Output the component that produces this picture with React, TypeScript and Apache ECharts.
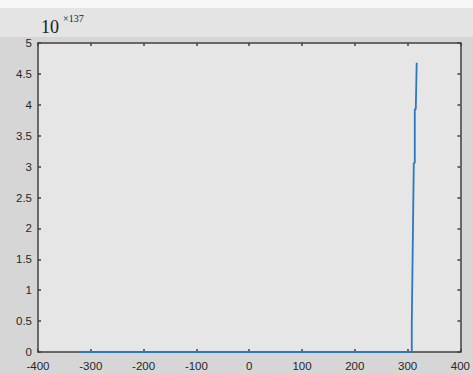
import React, { useEffect, useRef } from "react";
import * as echarts from "echarts";

const xTicks = [-400, -300, -200, -100, 0, 100, 200, 300, 400];
const yTicks = [0, 0.5, 1, 1.5, 2, 2.5, 3, 3.5, 4, 4.5, 5];
const xValues = [-320, 307.9, 307.9, 309.2, 309.2, 310.5, 310.5, 311.7, 311.7, 313.6, 313.6, 315.5, 317.2];
const yValues = [0, 0, 0.47, 0.47, 1.34, 1.34, 2.22, 2.22, 3.06, 3.06, 3.93, 3.93, 4.68];
const exponentBase = "10";
const exponentPower = "×137";

export default function App() {
  const ref = useRef<HTMLDivElement>(null);
  useEffect(() => {
    if (!ref.current) return;
    const chart = echarts.init(ref.current, null, { renderer: "svg" });
    const data = xValues.map((x, i) => [x, yValues[i]]);
    const labelStyle = { color: "#262626", fontSize: 11.5, lineHeight: 11, fontFamily: "Liberation Sans, Arial, sans-serif" };
    const axisLine = { show: true, onZero: false, lineStyle: { color: "#404040", width: 1.5 } };
    const tick = { show: true, inside: true, length: 3, lineStyle: { color: "#404040", width: 1.5 } };
    chart.setOption({
      animation: false,
      backgroundColor: "#d6d6d6",
      graphic: [
        { type: "rect", z: -10, shape: { x: 0, y: 0, width: 473, height: 8 }, style: { fill: "#f7f7f7" } },
        { type: "rect", z: -10, shape: { x: 0, y: 8, width: 473, height: 29 }, style: { fill: "#e4e4e4" } },
        { type: "text", x: 41, y: 18, style: { text: exponentBase, font: "18px 'Liberation Serif', 'Times New Roman', serif", fill: "#1a1a1a" } },
        { type: "text", x: 63, y: 13, style: { text: exponentPower, font: "10px 'Liberation Serif', 'Times New Roman', serif", fill: "#1a1a1a" } }
      ],
      grid: {
        left: 38, right: 12, top: 43, bottom: 22,
        show: true, backgroundColor: "#e6e6e6", borderWidth: 0
      },
      xAxis: [
        {
          type: "value", min: -400, max: 400, interval: 100, position: "bottom", z: 0,
          axisLine, axisTick: tick, splitLine: { show: false },
          axisLabel: { ...labelStyle, margin: 8, formatter: (v: number) => (xTicks.includes(v) ? String(v) : "") }
        },
        {
          type: "value", min: -400, max: 400, interval: 100, position: "top",
          axisLine, axisTick: tick, splitLine: { show: false }, axisLabel: { show: false }
        }
      ],
      yAxis: [
        {
          type: "value", min: 0, max: 5, interval: 0.5, position: "left",
          axisLine, axisTick: tick, splitLine: { show: false },
          axisLabel: { ...labelStyle, margin: 6, formatter: (v: number) => (yTicks.includes(v) ? String(v) : "") }
        },
        {
          type: "value", min: 0, max: 5, interval: 0.5, position: "right",
          axisLine, axisTick: tick, splitLine: { show: false }, axisLabel: { show: false }
        }
      ],
      series: [
        {
          type: "line", xAxisIndex: 0, yAxisIndex: 0, data, showSymbol: false, clip: false,
          lineStyle: { color: "#2a78c2", width: 1.8 }, z: 10
        }
      ]
    });
    return () => chart.dispose();
  }, []);
  return <div ref={ref} style={{ position: "fixed", left: 0, top: 0, width: 473, height: 374 }} />;
}
